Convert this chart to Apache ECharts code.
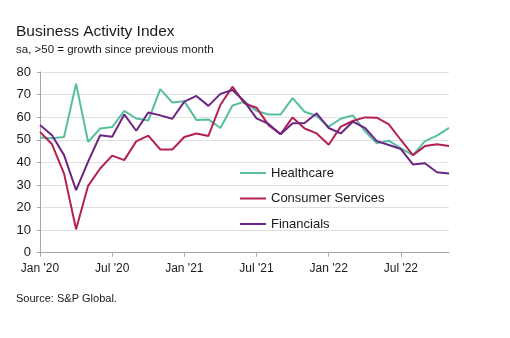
<!DOCTYPE html>
<html>
<head>
<meta charset="utf-8">
<script src="https://cdn.jsdelivr.net/npm/echarts@6/dist/echarts.min.js"></script>
<style>
  html, body { margin: 0; padding: 0; background: #ffffff; }
  #chart { width: 510px; height: 338px; }
</style>
</head>
<body>
<div id="chart"></div>
<script>
// Monthly readings, Jan 2020 – Nov 2022
const months = [
  "Jan '20","Feb '20","Mar '20","Apr '20","May '20","Jun '20","Jul '20","Aug '20","Sep '20","Oct '20","Nov '20","Dec '20",
  "Jan '21","Feb '21","Mar '21","Apr '21","May '21","Jun '21","Jul '21","Aug '21","Sep '21","Oct '21","Nov '21","Dec '21",
  "Jan '22","Feb '22","Mar '22","Apr '22","May '22","Jun '22","Jul '22","Aug '22","Sep '22","Oct '22","Nov '22"
];

const healthcare = [
  51.0, 50.7, 51.2, 74.8, 49.0, 55.0, 55.6, 62.8, 59.4, 58.5, 72.4, 66.5,
  67.0, 58.8, 59.0, 55.2, 65.2, 66.9, 62.8, 61.2, 61.2, 68.4, 62.4, 60.5,
  55.8, 59.3, 60.8, 53.9, 48.4, 49.6, 46.2, 43.2, 49.4, 51.8, 55.3
];

const consumerServices = [
  53.5, 48.0, 35.0, 10.4, 29.6, 37.3, 43.0, 41.0, 49.3, 51.8, 45.7, 45.7,
  51.2, 52.8, 51.7, 65.5, 73.5, 66.1, 64.2, 56.5, 52.5, 59.9, 55.0, 52.8,
  47.8, 55.8, 58.3, 59.9, 59.8, 56.8, 49.9, 43.2, 47.2, 48.0, 47.2
];

const financials = [
  56.5, 52.0, 43.2, 27.7, 40.3, 52.0, 51.3, 61.2, 54.0, 62.1, 60.8, 59.3,
  66.9, 69.4, 65.0, 70.3, 72.0, 66.9, 59.5, 57.0, 52.4, 57.3, 57.4, 61.7,
  55.2, 52.8, 58.0, 55.3, 49.4, 47.7, 45.9, 39.1, 39.6, 35.6, 35.1
];

// Only every sixth month is labelled on the time axis
const tickLabels = ["Jan '20", "Jul '20", "Jan '21", "Jul '21", "Jan '22", "Jul '22"];

const colors = {
  healthcare: '#57bf9f',
  consumer: '#b42056',
  financials: '#6c2582'
};

const FONT = '"Liberation Sans", Arial, sans-serif';

const chart = echarts.init(document.getElementById('chart'), null, { renderer: 'canvas' });

function lineSeries(name, data, color) {
  return {
    name: name,
    type: 'line',
    data: data,
    showSymbol: false,
    symbol: 'none',
    lineStyle: { color: color, width: 2 },
    itemStyle: { color: color },
    animation: false
  };
}

chart.setOption({
  animation: false,
  backgroundColor: '#ffffff',
  textStyle: { fontFamily: FONT },
  title: [
    {
      text: 'Business Activity Index',
      left: 11, top: 19,
      textStyle: { fontFamily: FONT, fontSize: 15.5, fontWeight: 'normal', color: '#1a1a1a' }
    },
    {
      text: 'sa, >50 = growth since previous month',
      left: 11, top: 39,
      textStyle: { fontFamily: FONT, fontSize: 11.5, fontWeight: 'normal', color: '#1a1a1a' }
    },
    {
      text: 'Source: S&P Global.',
      left: 11, top: 288,
      textStyle: { fontFamily: FONT, fontSize: 11, fontWeight: 'normal', color: '#1a1a1a' }
    }
  ],
  legend: {
    orient: 'vertical',
    left: 240, top: 166.5,
    padding: 0,
    itemWidth: 26, itemHeight: 2,
    itemGap: 12.5,
    icon: 'rect',
    textStyle: { fontFamily: FONT, fontSize: 13, color: '#1a1a1a' },
    data: ['Healthcare', 'Consumer Services', 'Financials']
  },
  grid: { left: 40, right: 61, top: 72, bottom: 85.3, containLabel: false },
  xAxis: {
    type: 'category',
    data: months,
    boundaryGap: false,
    axisLine: { lineStyle: { color: '#a6a6a6', width: 1 } },
    axisTick: {
      show: true, length: 4, lineStyle: { color: '#a6a6a6' },
      interval: function (i) { return i % 6 === 0; }
    },
    axisLabel: {
      interval: function (i, v) { return tickLabels.indexOf(v) !== -1; },
      fontFamily: FONT, fontSize: 12, color: '#1a1a1a', margin: 10
    },
    splitLine: { show: false }
  },
  yAxis: {
    type: 'value',
    min: 0, max: 80, interval: 10,
    axisLine: { show: true, lineStyle: { color: '#a6a6a6', width: 1 } },
    axisTick: { show: true, length: 3, lineStyle: { color: '#a6a6a6' } },
    axisLabel: { fontFamily: FONT, fontSize: 13, color: '#1a1a1a', margin: 9 },
    splitLine: { lineStyle: { color: '#e0e0e0', width: 1 } }
  },
  series: [
    lineSeries('Healthcare', healthcare, colors.healthcare),
    lineSeries('Consumer Services', consumerServices, colors.consumer),
    lineSeries('Financials', financials, colors.financials)
  ]
});
</script>
</body>
</html>
